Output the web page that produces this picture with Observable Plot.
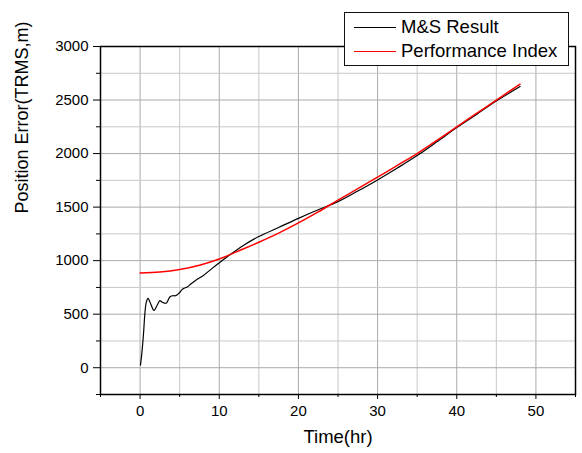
<!DOCTYPE html>
<html><head><meta charset="utf-8">
<script src="https://cdn.jsdelivr.net/npm/d3@7"></script>
<script src="https://cdn.jsdelivr.net/npm/@observablehq/plot@0.6"></script>
<style>
body{margin:0;background:#fff;font-family:"Liberation Sans",Arial,sans-serif;}
#wrap{position:relative;width:582px;height:453px;}
#legend{position:absolute;left:344px;top:12px;width:225px;height:54px;box-sizing:border-box;border:1.5px solid #111;background:#fff;}
.item{position:absolute;left:9px;height:22px;display:flex;align-items:center;font-size:18.5px;color:#000;white-space:nowrap;}
.swatch{width:42px;height:0;border-top:1.3px solid;margin-right:5px;}
</style></head><body><div id="wrap"></div>
<script>
// M&S Result (black)
const msTime  = [0.05, 0.2, 0.43, 0.6, 0.78, 1.0, 1.35, 1.75, 2.2, 2.5, 2.8, 3.1, 3.35, 3.75, 4.1, 4.5, 4.9, 5.35, 6.0, 6.4, 7.0, 8.0, 9.1, 10.1, 11.4, 13, 15, 17.5, 20, 22.5, 25, 27.5, 30, 32.5, 35, 37.5, 40, 42.5, 45, 48];
const msError = [25, 120, 315, 500, 610, 648, 595, 535, 590, 626, 612, 603, 605, 660, 672, 673, 695, 733, 757, 782, 815, 862, 928, 985, 1057, 1140, 1225, 1310, 1395, 1475, 1551, 1650, 1754, 1865, 1981, 2110, 2243, 2366, 2490, 2626];
// Performance Index (red)
const piTime  = [0, 2.5, 5, 7.5, 10, 12.5, 15, 17.5, 20, 22.5, 25, 27.5, 30, 32.5, 35, 37.5, 40, 42.5, 45, 48];
const piError = [885, 894, 917, 957, 1015, 1093, 1172, 1257, 1352, 1455, 1565, 1672, 1780, 1890, 2000, 2123, 2250, 2375, 2500, 2648];

const seriesNames  = ["M&S Result", "Performance Index"];
const seriesColors = ["#000000", "#ff0000"];

const xMajorTicks = [0, 10, 20, 30, 40, 50];
const xMinorTicks = [-5, 5, 15, 25, 35, 45, 55];
const yMajorTicks = [0, 500, 1000, 1500, 2000, 2500, 3000];
const yMinorTicks = [-250, 250, 750, 1250, 1750, 2250, 2750];
const xTitle = "Time(hr)";
const yTitle = "Position Error(TRMS,m)";

const ms = msTime.map((t, i) => ({t, v: msError[i]}));
const pi = piTime.map((t, i) => ({t, v: piError[i]}));

const gridMajor = {stroke: "#aaaaaa", strokeWidth: 1};
const gridMinor = {stroke: "#c8c8c8", strokeWidth: 1};

const chart = Plot.plot({
  width: 582, height: 453,
  marginLeft: 100, marginRight: 7, marginTop: 46, marginBottom: 59,
  style: {fontFamily: "'Liberation Sans', Arial, sans-serif", background: "#fff", color: "#000"},
  x: {domain: [-5, 55], label: null},
  y: {domain: [-250, 3000], label: null},
  marks: [
    Plot.ruleX(xMinorTicks.filter(d => d > -5 && d < 55), {x: d => d, ...gridMinor}),
    Plot.ruleX(xMajorTicks, {x: d => d, ...gridMajor}),
    Plot.ruleY(yMinorTicks.filter(d => d > -250), {y: d => d, ...gridMinor}),
    Plot.ruleY(yMajorTicks.filter(d => d < 3000), {y: d => d, ...gridMajor}),
    Plot.axisY(yMajorTicks, {tickSize: 7, tickPadding: 5, fontSize: 15, label: null, tickFormat: d => String(d)}),
    Plot.axisY(yMinorTicks, {tickSize: 4, tickFormat: () => "", label: null}),
    Plot.axisX(xMajorTicks, {tickSize: 5, tickPadding: 6, fontSize: 15, label: null, tickFormat: d => String(d)}),
    Plot.axisX(xMinorTicks, {tickSize: 3, tickFormat: () => "", label: null}),
    Plot.line(ms, {x: "t", y: "v", stroke: seriesColors[0], strokeWidth: 1.2, curve: "catmull-rom"}),
    Plot.line(pi, {x: "t", y: "v", stroke: seriesColors[1], strokeWidth: 1.5, curve: "catmull-rom"}),
    Plot.frame({stroke: "#000", strokeWidth: 1.5}),
    Plot.text([xTitle], {text: d => d, frameAnchor: "bottom", dy: 48, fontSize: 18.5}),
    Plot.text([yTitle], {text: d => d, frameAnchor: "left", dx: -78, dy: -7, rotate: -90, fontSize: 18})
  ]
});

const wrap = document.getElementById("wrap");
wrap.appendChild(chart);

const legend = document.createElement("div");
legend.id = "legend";
seriesNames.forEach((name, i) => {
  const item = document.createElement("div");
  item.className = "item";
  item.style.top = (3 + i * 24) + "px";
  const sw = document.createElement("span");
  sw.className = "swatch";
  sw.style.borderTopColor = seriesColors[i];
  const lab = document.createElement("span");
  lab.textContent = name;
  item.appendChild(sw);
  item.appendChild(lab);
  legend.appendChild(item);
});
wrap.appendChild(legend);
</script>
</body></html>
